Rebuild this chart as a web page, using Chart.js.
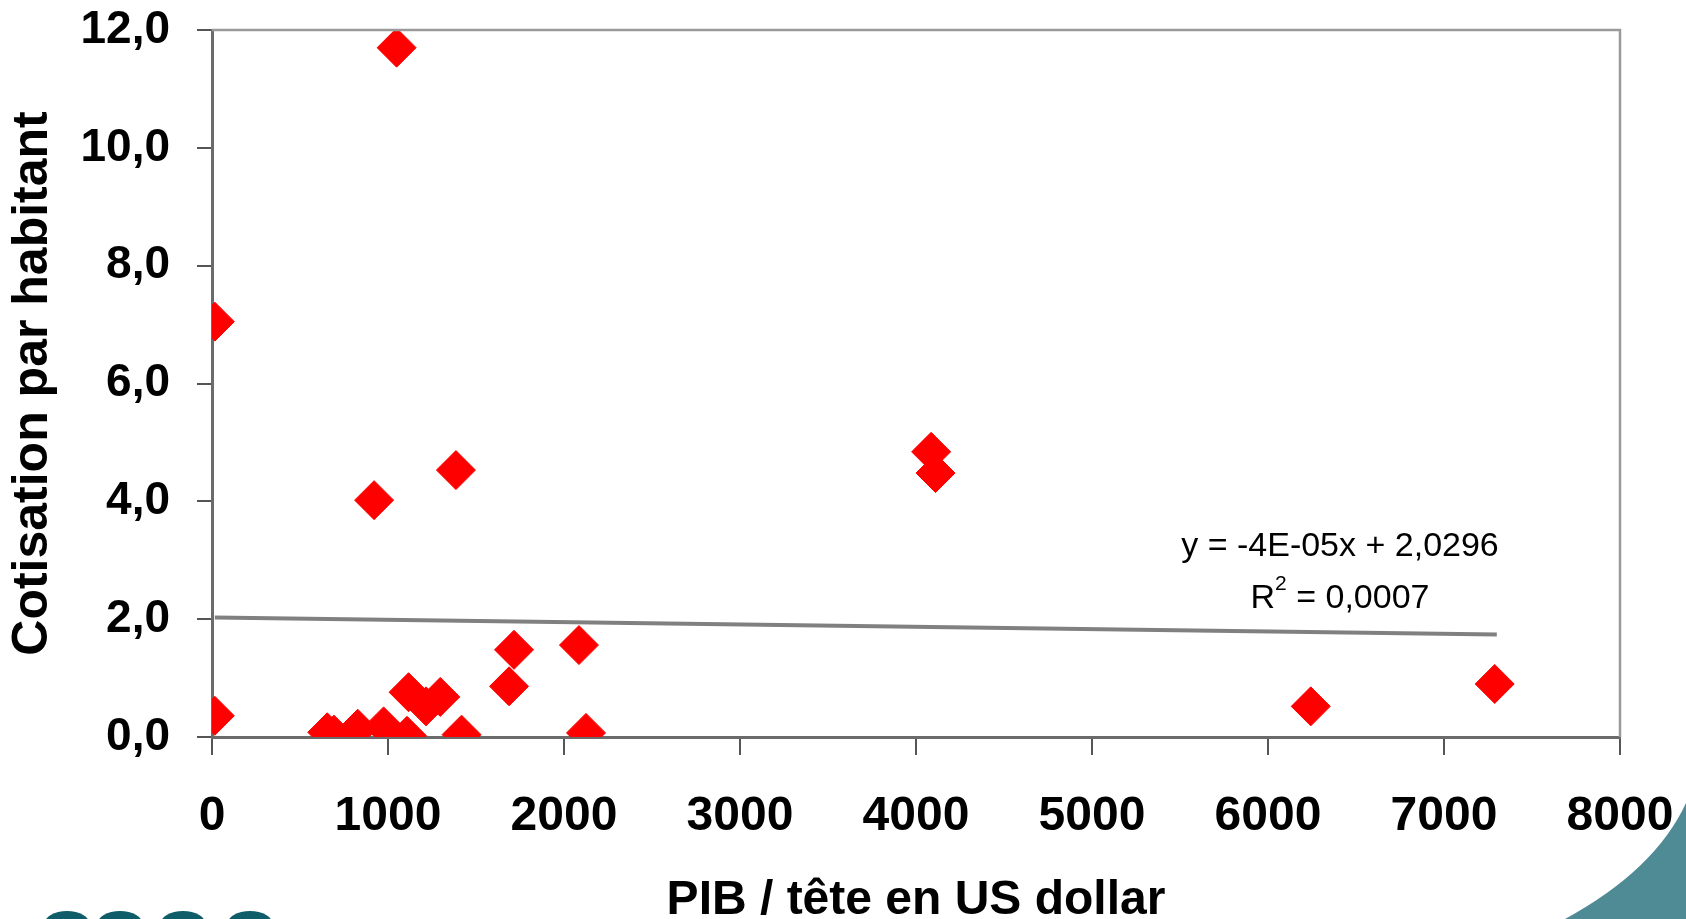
<!DOCTYPE html>
<html>
<head>
<meta charset="utf-8">
<script src="https://cdn.jsdelivr.net/npm/chart.js@4/dist/chart.umd.min.js"></script>
<style>
  html, body { margin: 0; padding: 0; background: #ffffff; }
  #wrap { position: relative; width: 1686px; height: 919px; }
</style>
</head>
<body>
<div id="wrap"><canvas id="c" width="1686" height="919"></canvas></div>
<script>
// ---- Data ----
const gdpPerCapita = [16, 16, 1049, 921, 1386, 4086, 4111, 655, 693, 828, 975, 1108, 1117, 1216, 1297, 1418, 1688, 1716, 2085, 2125, 6243, 7288];
const contribution = [7.05, 0.36, 11.70, 4.02, 4.53, 4.84, 4.48, 0.08, 0.04, 0.14, 0.18, 0.02, 0.76, 0.52, 0.68, 0.04, 0.86, 1.48, 1.56, 0.07, 0.52, 0.90];
const trendX = [16, 7300];
const trendY = [2.03, 1.74];
const xTickLabels = ['0', '1000', '2000', '3000', '4000', '5000', '6000', '7000', '8000'];
const yTickLabels = ['0,0', '2,0', '4,0', '6,0', '8,0', '10,0', '12,0'];
const xTitle = 'PIB / tête en US dollar';
const yTitle = 'Cotisation par habitant';
const trendEquation = 'y = -4E-05x + 2,0296';
const trendR2 = ['R', '2', ' = 0,0007'];

const FONT = "'Liberation Sans', Arial, sans-serif";

const scatterPoints = gdpPerCapita.map((x, i) => ({ x: x, y: contribution[i] }));
const trendPoints = trendX.map((x, i) => ({ x: x, y: trendY[i] }));

const decorPlugin = {
  id: 'decor',
  beforeDraw(chart) {
    const ctx = chart.ctx;
    ctx.save();
    ctx.fillStyle = '#ffffff';
    ctx.fillRect(0, 0, chart.width, chart.height);
    ctx.restore();
  },
  afterDatasetsDraw(chart) {
    const ctx = chart.ctx;
    const a = chart.chartArea;
    ctx.save();
    // top and right frame
    ctx.strokeStyle = '#9a9a9a';
    ctx.lineWidth = 2.5;
    ctx.beginPath();
    ctx.moveTo(a.left, a.top);
    ctx.lineTo(a.right, a.top);
    ctx.lineTo(a.right, a.bottom);
    ctx.stroke();

    // trendline label
    ctx.fillStyle = '#000000';
    ctx.textBaseline = 'alphabetic';
    ctx.font = '34px ' + FONT;
    ctx.textAlign = 'center';
    const cx = 1340;
    ctx.fillText(trendEquation, cx, 556);
    ctx.textAlign = 'left';
    const big = '34px ' + FONT, small = '21px ' + FONT;
    ctx.font = big; const w1 = ctx.measureText(trendR2[0]).width;
    ctx.font = small; const w2 = ctx.measureText(trendR2[1]).width;
    ctx.font = big; const w3 = ctx.measureText(trendR2[2]).width;
    let sx = cx - (w1 + w2 + w3) / 2;
    ctx.font = big; ctx.fillText(trendR2[0], sx, 608); sx += w1;
    ctx.font = small; ctx.fillText(trendR2[1], sx, 590); sx += w2;
    ctx.font = big; ctx.fillText(trendR2[2], sx, 608);

    // slide decorations
    ctx.fillStyle = '#4e8b95';
    ctx.beginPath();
    ctx.moveTo(1686, 803);
    ctx.quadraticCurveTo(1655, 870, 1565, 919);
    ctx.lineTo(1686, 919);
    ctx.closePath();
    ctx.fill();

    ctx.fillStyle = '#0e5d68';
    [67, 120, 183, 250].forEach(x => {
      ctx.beginPath();
      ctx.ellipse(x, 925, 23, 14, 0, 0, Math.PI * 2);
      ctx.fill();
    });
    ctx.restore();
  }
};

new Chart(document.getElementById('c'), {
  type: 'scatter',
  data: {
    datasets: [
      {
        label: 'Cotisation',
        data: scatterPoints,
        pointStyle: 'rectRot',
        pointRadius: 19.5,
        pointHoverRadius: 19.5,
        backgroundColor: '#ff0000',
        borderColor: '#ff0000',
        borderWidth: 1,
        order: 1
      },
      {
        type: 'line',
        label: 'Tendance',
        data: trendPoints,
        borderColor: '#808080',
        borderWidth: 4,
        pointRadius: 0,
        fill: false,
        order: 2
      }
    ]
  },
  plugins: [decorPlugin],
  options: {
    responsive: false,
    animation: false,
    events: [],
    layout: { padding: { left: 0, right: 66, top: 30, bottom: 0 } },
    plugins: { legend: { display: false }, tooltip: { enabled: false } },
    scales: {
      x: {
        type: 'linear',
        min: 0, max: 8000,
        afterFit(scale) { scale.height = 182; scale.paddingLeft = 0; scale.paddingRight = 0; },
        afterBuildTicks(scale) { scale.ticks = xTickLabels.map(t => ({ value: Number(t) })); },
        ticks: {
          callback: (v, i) => xTickLabels[i],
          color: '#000000',
          font: { family: FONT, size: 48, weight: 'bold' },
          padding: 33,
          maxRotation: 0,
          autoSkip: false
        },
        grid: { drawOnChartArea: false, tickLength: 18, color: '#555555', lineWidth: 2 },
        border: { color: '#6b6b6b', width: 3 },
        title: {
          display: true,
          text: xTitle,
          color: '#000000',
          font: { family: FONT, size: 48, weight: 'bold', lineHeight: 0.8 },
          padding: { top: 0, bottom: -1 }
        }
      },
      y: {
        type: 'linear',
        min: 0, max: 12,
        afterFit(scale) { scale.width = 212; scale.paddingTop = 0; scale.paddingBottom = 0; },
        afterBuildTicks(scale) { scale.ticks = yTickLabels.map((t, i) => ({ value: i * 2 })); },
        ticks: {
          callback: (v, i) => yTickLabels[i],
          color: '#000000',
          font: { family: FONT, size: 46, weight: 'bold' },
          padding: 27,
          autoSkip: false
        },
        grid: { drawOnChartArea: false, tickLength: 15, color: '#555555', lineWidth: 2 },
        border: { color: '#6b6b6b', width: 3 },
        title: {
          display: true,
          text: yTitle,
          color: '#000000',
          font: { family: FONT, size: 50, weight: 'bold', lineHeight: 1.2 },
          padding: { top: 3, bottom: 0 }
        }
      }
    }
  }
});
</script>
</body>
</html>
